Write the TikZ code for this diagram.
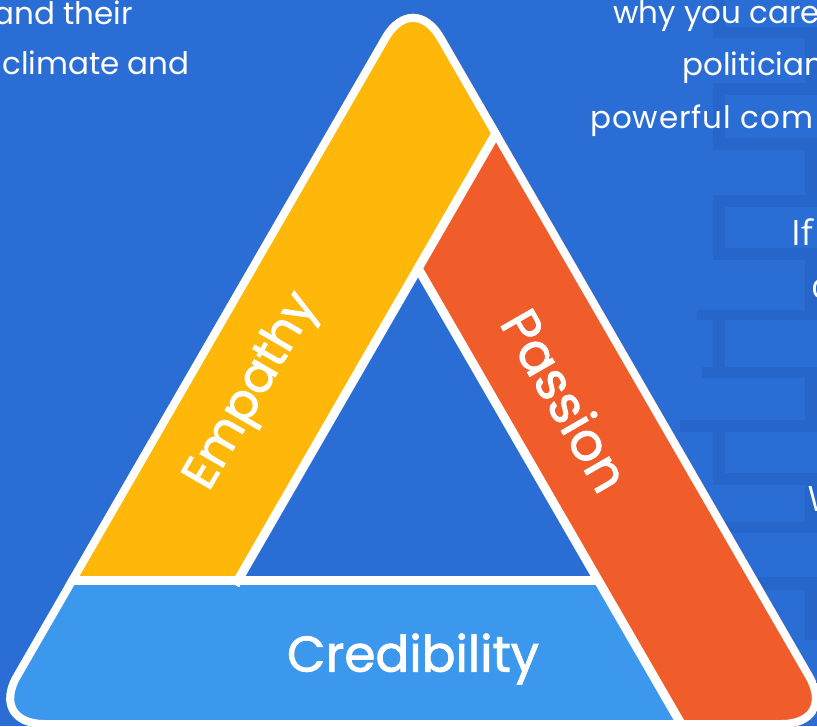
\documentclass[tikz,border=0pt]{standalone}
\usepackage{fontspec}
\setmainfont{Poppins}
\newfontfamily\otherfont{Open Sans}
\newfontfamily\labfont{Poppins}[FakeBold=1.6]
\definecolor{bg}{HTML}{2A6ED5}
\definecolor{mortar}{HTML}{2666CB}
\definecolor{yel}{HTML}{FFB80A}
\definecolor{ora}{HTML}{F05C2A}
\definecolor{lblue}{HTML}{3C98EC}
\tikzset{
  bodytxt/.style={text=white, inner sep=0pt, font=\fontsize{31}{31}\selectfont},
  othertxt/.style={text=white, inner sep=0pt, font=\otherfont\fontsize{35}{35}\selectfont},
  lab/.style={text=white, inner sep=0pt},
  divider/.style={white, line width=9pt},
}
\begin{document}
\begin{tikzpicture}[x=1pt,y=-1pt]
\useasboundingbox (0,0) rectangle (817,726);
\clip (0,0) rectangle (817,726);
\fill[bg] (0,0) rectangle (817,726);
% brick wall (subtle mortar)
\foreach \ya/\yb/\xl in {27/38/713, 83/95/713, 138/150/713, 195/207/713, 248/260/713, 310/320/697, 367/378/702, 420/432/680, 473/485/713, 522/533/713, 577/590/740}
  \fill[mortar] (\xl,\ya) rectangle (817,\yb);
\foreach \ya/\yb in {0/27, 95/138, 207/248, 320/367, 432/473, 533/577}
  \fill[mortar] (713,\ya) rectangle (725,\yb);
\foreach \ya/\yb in {38/83, 150/195, 260/310, 378/420, 485/522, 590/640}
  \fill[mortar] (805,\ya) rectangle (817,\yb);
% texts
\node[bodytxt, anchor=base east] (t1) at (133,24) {and their};
\node[bodytxt, anchor=base west] (t2) at (2,74) {climate and};
\node[bodytxt, anchor=base west] (t3) at (613,23) {why you care};
\node[bodytxt, anchor=base west] (t4) at (682,75) {politician};
\node[bodytxt, anchor=base west] (t5) at (590,128) {\addfontfeature{LetterSpace=3}powerful com};
\node[othertxt, anchor=base west] (t6) at (791,245) {If};
\node[othertxt, anchor=base west] (t7) at (811,298) {c};
\node[othertxt, anchor=base west] (t8) at (808,511) {W};
% triangle
\coordinate (T) at (413,-17.6);
\coordinate (L) at (-17.5,728);
\coordinate (R) at (843.5,728);
\coordinate (M) at (413,728);
\coordinate (H) at (418,268.3);
\coordinate (HL) at (238.1,580);
\coordinate (HR) at (598,580);
\coordinate (L3top) at (630.7,-100);
\coordinate (L3bot) at (235.2,585);
\coordinate (L2bot) at (690.4,740);
\begin{scope}
\clip[rounded corners=62pt] (M) -- (R) -- (T) -- (L) -- cycle;
\fill[lblue] (-60,-120) rectangle (900,760);
\fill[yel] (-60,580) -- (HL) -- (L3top) -- (-60,-120) -- cycle;
\fill[ora] (H) -- (L2bot) -- (900,740) -- (900,-120) -- (L3top) -- cycle;
\fill[bg] (H) -- (HL) -- (HR) -- cycle;
\draw[divider] (L3bot) -- (L3top);
\draw[divider] (H) -- (L2bot);
\draw[divider] (-60,580) -- (HR);
\draw[white, line width=16pt, rounded corners=62pt] (M) -- (R) -- (T) -- (L) -- cycle;
\end{scope}
% labels
\node[lab] (cred) at (413,659) {\resizebox{252pt}{!}{\labfont\fontsize{50}{50}\selectfont Credibility}};
\node[lab, rotate=60] (emp) at (253,392) {\resizebox{218pt}{!}{\labfont\fontsize{48}{48}\selectfont Empathy}};
\node[lab, rotate=-60] (pas) at (566,400) {\resizebox{200pt}{!}{\labfont\fontsize{48}{48}\selectfont Passion}};
\end{tikzpicture}
\end{document}
